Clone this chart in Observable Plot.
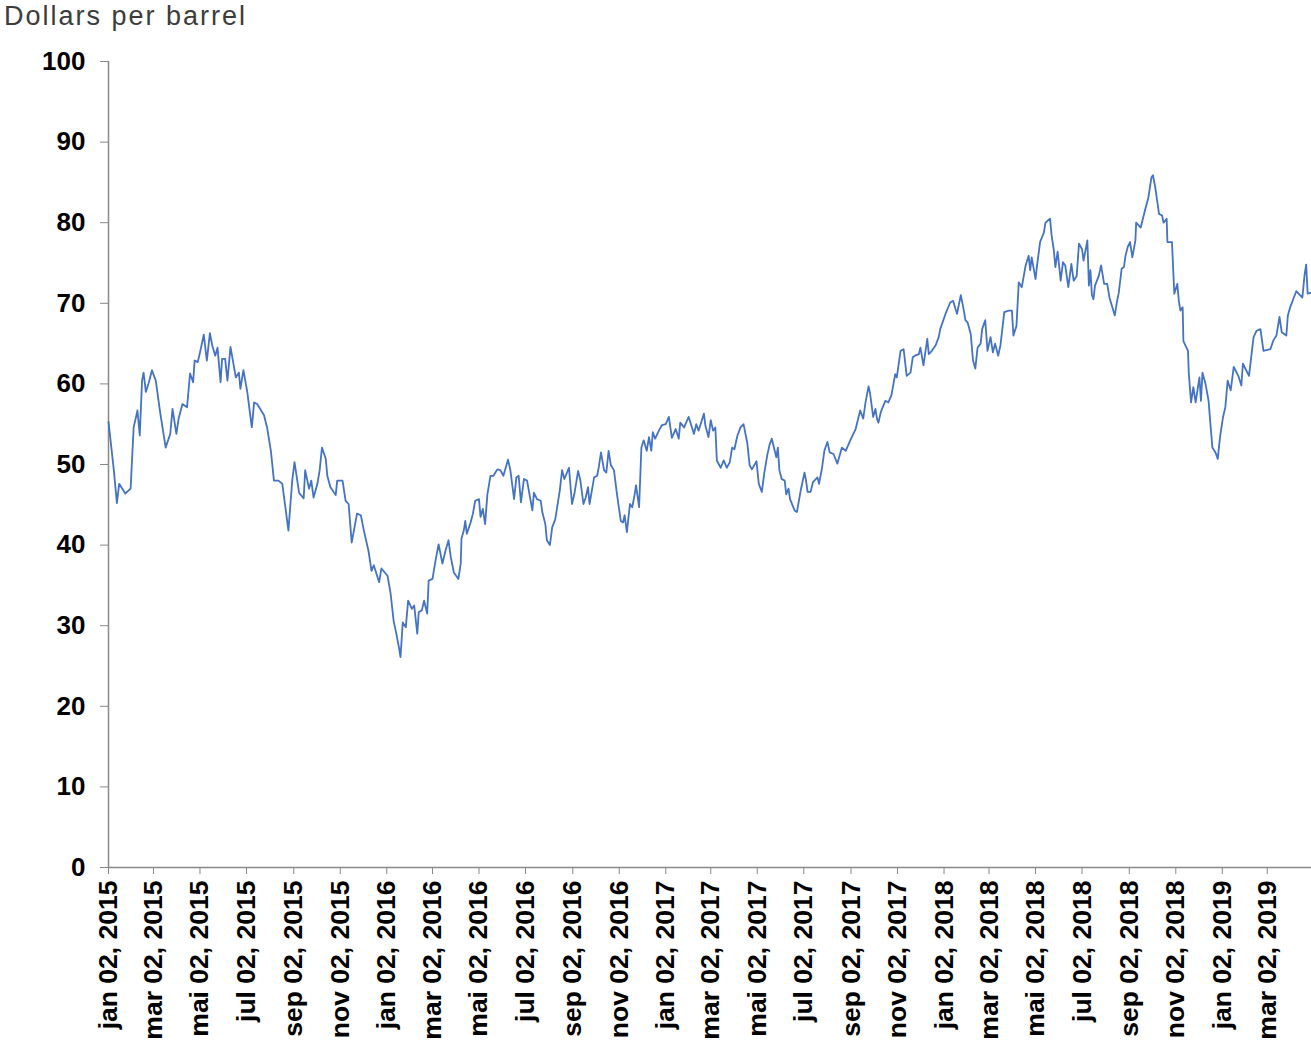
<!DOCTYPE html>
<html>
<head>
<meta charset="utf-8">
<script src="https://cdn.jsdelivr.net/npm/d3@7"></script>
<script src="https://cdn.jsdelivr.net/npm/@observablehq/plot@0.6"></script>
<style>
  html, body { margin: 0; padding: 0; background: #fff; }
  #title { font-family: "Liberation Sans", Arial, sans-serif; font-size: 27px; letter-spacing: 2px; color: #3c3c3c; height: 32px; line-height: 32px; padding-left: 4px; white-space: nowrap; }
  #chart svg { display: block; }
</style>
</head>
<body>
<div id="title">Dollars per barrel</div>
<div id="chart"></div>
<script>
const dates = [
"2015-01-02","2015-01-09","2015-01-13","2015-01-16","2015-01-24","2015-01-31","2015-02-04","2015-02-09","2015-02-12","2015-02-15",
"2015-02-17","2015-02-20","2015-02-24","2015-02-28","2015-03-05","2015-03-11","2015-03-18","2015-03-24","2015-03-27","2015-04-01",
"2015-04-04","2015-04-09","2015-04-15","2015-04-19","2015-04-23","2015-04-25","2015-04-29","2015-05-02","2015-05-07","2015-05-11",
"2015-05-15","2015-05-18","2015-05-22","2015-05-25","2015-05-29","2015-05-31","2015-06-04","2015-06-07","2015-06-11","2015-06-18",
"2015-06-22","2015-06-24","2015-06-28","2015-07-03","2015-07-09","2015-07-12","2015-07-16","2015-07-25","2015-07-29","2015-08-03",
"2015-08-07","2015-08-13","2015-08-18","2015-08-26","2015-08-31","2015-09-03","2015-09-09","2015-09-15","2015-09-17","2015-09-22",
"2015-09-25","2015-09-28","2015-10-03","2015-10-06","2015-10-09","2015-10-14","2015-10-16","2015-10-20","2015-10-27","2015-10-29",
"2015-11-05","2015-11-09","2015-11-13","2015-11-17","2015-11-24","2015-11-29","2015-12-03","2015-12-09","2015-12-13","2015-12-16",
"2015-12-23","2015-12-26","2016-01-03","2016-01-07","2016-01-11","2016-01-15","2016-01-18","2016-01-20","2016-01-23","2016-01-27",
"2016-01-30","2016-02-04","2016-02-07","2016-02-11","2016-02-13","2016-02-17","2016-02-20","2016-02-24","2016-02-26","2016-03-02",
"2016-03-06","2016-03-10","2016-03-15","2016-03-19","2016-03-23","2016-03-26","2016-03-30","2016-04-05","2016-04-08","2016-04-09",
"2016-04-12","2016-04-14","2016-04-16","2016-04-21","2016-04-24","2016-04-27","2016-05-02","2016-05-04","2016-05-07","2016-05-10",
"2016-05-13","2016-05-17","2016-05-21","2016-05-26","2016-05-30","2016-06-03","2016-06-09","2016-06-12","2016-06-17","2016-06-20",
"2016-06-23","2016-06-26","2016-06-30","2016-07-04","2016-07-08","2016-07-11","2016-07-13","2016-07-17","2016-07-22","2016-07-24",
"2016-07-28","2016-07-30","2016-08-03","2016-08-06","2016-08-10","2016-08-16","2016-08-19","2016-08-22","2016-08-28","2016-09-01",
"2016-09-04","2016-09-09","2016-09-12","2016-09-16","2016-09-19","2016-09-22","2016-09-24","2016-09-30","2016-10-04","2016-10-06",
"2016-10-09","2016-10-13","2016-10-16","2016-10-19","2016-10-22","2016-10-26","2016-10-30","2016-11-04","2016-11-07","2016-11-09",
"2016-11-12","2016-11-16","2016-11-19","2016-11-22","2016-11-24","2016-11-28","2016-12-01","2016-12-04","2016-12-08","2016-12-11",
"2016-12-14","2016-12-16","2016-12-19","2016-12-24","2016-12-28","2017-01-02","2017-01-06","2017-01-10","2017-01-15","2017-01-19",
"2017-01-21","2017-01-26","2017-02-01","2017-02-08","2017-02-11","2017-02-14","2017-02-21","2017-02-23","2017-02-27","2017-03-02",
"2017-03-05","2017-03-08","2017-03-10","2017-03-15","2017-03-19","2017-03-23","2017-03-27","2017-03-30","2017-04-02","2017-04-06",
"2017-04-10","2017-04-14","2017-04-19","2017-04-22","2017-04-25","2017-05-01","2017-05-04","2017-05-08","2017-05-11","2017-05-15",
"2017-05-18","2017-05-21","2017-05-27","2017-05-29","2017-05-31","2017-06-03","2017-06-07","2017-06-09","2017-06-12","2017-06-14",
"2017-06-20","2017-06-23","2017-06-28","2017-07-03","2017-07-05","2017-07-07","2017-07-11","2017-07-14","2017-07-20","2017-07-22",
"2017-07-26","2017-07-29","2017-08-02","2017-08-05","2017-08-10","2017-08-15","2017-08-21","2017-08-26","2017-09-01","2017-09-08",
"2017-09-14","2017-09-18","2017-09-21","2017-09-25","2017-09-27","2017-10-01","2017-10-04","2017-10-06","2017-10-08","2017-10-11",
"2017-10-17","2017-10-21","2017-10-25","2017-10-28","2017-10-30","2017-11-01","2017-11-06","2017-11-10","2017-11-14","2017-11-19",
"2017-11-22","2017-11-25","2017-11-30","2017-12-02","2017-12-06","2017-12-11","2017-12-13","2017-12-17","2017-12-22","2017-12-26",
"2017-12-28","2018-01-04","2018-01-10","2018-01-14","2018-01-17","2018-01-19","2018-01-24","2018-01-28","2018-01-30","2018-02-02",
"2018-02-06","2018-02-09","2018-02-12","2018-02-15","2018-02-19","2018-02-21","2018-02-25","2018-02-28","2018-03-04","2018-03-07",
"2018-03-10","2018-03-14","2018-03-17","2018-03-22","2018-03-28","2018-04-01","2018-04-03","2018-04-07","2018-04-10","2018-04-14",
"2018-04-19","2018-04-23","2018-04-25","2018-04-27","2018-05-02","2018-05-04","2018-05-08","2018-05-13","2018-05-15","2018-05-21",
"2018-05-23","2018-05-26","2018-05-28","2018-05-31","2018-06-04","2018-06-07","2018-06-10","2018-06-14","2018-06-18","2018-06-21",
"2018-06-25","2018-06-28","2018-07-02","2018-07-04","2018-07-09","2018-07-11","2018-07-13","2018-07-15","2018-07-17","2018-07-19",
"2018-07-24","2018-07-27","2018-07-31","2018-08-04","2018-08-07","2018-08-14","2018-08-17","2018-08-19","2018-08-23","2018-08-26",
"2018-08-28","2018-08-31","2018-09-03","2018-09-06","2018-09-10","2018-09-11","2018-09-17","2018-09-23","2018-09-27","2018-10-01",
"2018-10-03","2018-10-06","2018-10-11","2018-10-15","2018-10-17","2018-10-21","2018-10-22","2018-10-28","2018-10-31","2018-11-04",
"2018-11-06","2018-11-08","2018-11-11","2018-11-12","2018-11-18","2018-11-19","2018-11-22","2018-11-25","2018-11-28","2018-12-03",
"2018-12-05","2018-12-07","2018-12-11","2018-12-15","2018-12-17","2018-12-20","2018-12-24","2018-12-27","2018-12-30","2019-01-03",
"2019-01-06","2019-01-09","2019-01-13","2019-01-17","2019-01-23","2019-01-27","2019-01-29","2019-02-06","2019-02-12","2019-02-16",
"2019-02-21","2019-02-25","2019-03-06","2019-03-10","2019-03-14","2019-03-18","2019-03-21","2019-03-27","2019-03-29","2019-04-01",
"2019-04-09","2019-04-12","2019-04-17","2019-04-20","2019-04-22","2019-04-24","2019-04-28"
];
const prices = [
55.3,49.3,45.2,47.6,46.4,47.0,54.6,56.7,53.6,60.4,
61.4,59.0,60.2,61.7,60.4,56.3,52.1,53.8,56.9,53.8,
55.7,57.5,57.1,61.3,60.2,62.9,62.7,63.9,66.1,62.9,
66.3,64.8,63.5,64.5,60.2,63.1,63.1,60.4,64.6,60.8,
61.4,59.4,61.7,59.0,54.6,57.7,57.5,56.1,54.6,51.7,
48.0,48.0,47.6,41.8,48.0,50.3,46.5,45.8,49.3,47.0,
48.0,45.9,47.6,49.3,52.1,50.7,48.6,47.2,46.2,48.0,
48.0,45.5,45.1,40.3,43.9,43.7,41.8,39.3,36.8,37.5,
35.4,37.1,36.2,34.0,30.6,28.8,27.3,26.1,30.4,29.8,
33.1,32.1,32.5,29.0,31.7,31.9,33.1,31.5,35.6,35.8,
38.1,40.1,37.7,39.3,40.6,38.5,36.6,35.8,37.7,40.8,
41.8,43.0,41.4,42.8,43.9,45.5,45.7,43.5,44.5,42.6,
46.3,48.6,48.6,49.4,49.3,48.6,50.6,49.4,45.7,48.4,
48.6,45.3,48.2,48.0,45.9,44.3,46.5,45.7,45.5,44.1,
42.6,40.6,40.0,42.2,43.2,46.8,49.3,48.2,49.6,45.1,
46.3,49.2,48.0,45.1,45.9,47.2,45.1,48.4,48.6,49.6,
51.5,49.3,49.0,51.7,49.9,49.3,46.3,43.0,42.8,43.7,
41.6,45.1,44.7,46.2,47.4,44.7,52.1,53.0,51.7,53.4,
51.7,54.0,53.2,54.2,54.9,55.0,55.9,53.3,54.4,53.2,
55.2,54.6,55.9,53.8,55.0,54.2,56.3,54.8,53.4,55.5,
54.2,54.6,50.5,49.6,50.5,49.6,50.3,52.1,51.9,53.6,
54.6,55.0,52.6,49.9,49.4,50.4,47.6,46.6,48.8,51.1,
52.4,53.2,50.9,52.1,49.3,48.2,48.0,46.3,47.0,45.7,
44.3,44.1,46.8,49.0,48.0,46.6,46.6,47.8,48.4,47.6,
49.6,51.7,52.8,51.5,51.3,50.1,52.1,51.7,53.0,54.4,
56.7,55.7,57.7,59.7,58.8,55.9,56.9,55.7,55.2,56.5,
57.9,57.7,58.6,60.2,61.2,60.8,64.1,64.3,61.0,61.4,
63.3,63.5,63.7,64.5,62.3,65.6,63.7,64.1,64.8,65.8,
66.8,68.7,70.1,70.3,69.3,68.7,71.0,69.1,67.9,67.6,
66.2,62.9,61.9,64.5,65.0,66.8,67.9,64.1,65.8,63.9,
65.0,63.5,64.8,68.9,69.1,69.1,66.0,67.2,72.6,72.0,
74.7,75.9,74.1,75.7,73.0,74.7,77.6,78.8,80.0,80.5,
78.5,76.6,74.5,76.4,72.8,75.1,74.7,72.0,74.9,72.8,
73.4,77.4,76.7,75.3,77.8,72.2,74.1,71.0,70.5,72.2,
73.4,74.7,72.4,72.4,70.7,68.5,70.3,71.2,74.3,74.5,
75.9,77.0,77.6,75.7,77.8,80.0,79.4,81.7,83.1,85.6,
85.9,84.4,81.1,80.9,80.0,80.5,77.6,77.6,71.2,72.4,
70.3,69.1,69.5,65.3,64.1,61.4,57.7,59.6,57.7,60.8,
57.9,61.4,60.0,57.9,55.5,52.1,51.5,50.7,53.4,55.9,
57.1,60.4,59.2,62.1,61.0,59.8,62.5,61.0,65.8,66.6,
66.8,64.1,64.3,65.4,66.0,68.3,66.4,66.0,68.5,69.5,
71.5,71.2,70.7,73.6,74.8,71.2,71.3
];
const tickDates = [
"2015-01-02","2015-03-02","2015-05-02","2015-07-02","2015-09-02","2015-11-02",
"2016-01-02","2016-03-02","2016-05-02","2016-07-02","2016-09-02","2016-11-02",
"2017-01-02","2017-03-02","2017-05-02","2017-07-02","2017-09-02","2017-11-02",
"2018-01-02","2018-03-02","2018-05-02","2018-07-02","2018-09-02","2018-11-02",
"2019-01-02","2019-03-02"
];
const tickLabels = [
"jan 02, 2015","mar 02, 2015","mai 02, 2015","jul 02, 2015","sep 02, 2015","nov 02, 2015",
"jan 02, 2016","mar 02, 2016","mai 02, 2016","jul 02, 2016","sep 02, 2016","nov 02, 2016",
"jan 02, 2017","mar 02, 2017","mai 02, 2017","jul 02, 2017","sep 02, 2017","nov 02, 2017",
"jan 02, 2018","mar 02, 2018","mai 02, 2018","jul 02, 2018","sep 02, 2018","nov 02, 2018",
"jan 02, 2019","mar 02, 2019"
];
const yTicks = [0,10,20,30,40,50,60,70,80,90,100];
const xDomain = ["2015-01-02","2019-04-29"];

const parse = s => new Date(s + "T00:00:00Z");
const data = dates.map((d, i) => ({date: parse(d), price: prices[i]}));
const tickObjs = tickDates.map(parse);
const labelMap = new Map(tickObjs.map((d, i) => [+d, tickLabels[i]]));
const axisColor = "#898989";

const chart = Plot.plot({
  width: 1311,
  height: 1013,
  marginLeft: 108,
  marginRight: 0,
  marginTop: 29,
  marginBottom: 178,
  style: {fontFamily: "'Liberation Sans', Arial, sans-serif", background: "#fff", color: "#000"},
  x: {type: "utc", domain: xDomain.map(parse)},
  y: {domain: [0, 100]},
  marks: [
    Plot.axisY({ticks: yTicks, tickSize: 8, tickPadding: 15, fontSize: 26, fontWeight: "bold", stroke: axisColor, fill: "#000", label: null}),
    Plot.axisX({ticks: tickObjs, tickFormat: d => labelMap.get(+d), tickRotate: -90, tickSize: 7, tickPadding: 6, fontSize: 26.5, fontWeight: "bold", stroke: axisColor, fill: "#000", label: null}),
    Plot.ruleX([parse(xDomain[0])], {stroke: axisColor, strokeWidth: 1.5}),
    Plot.ruleY([0], {stroke: axisColor, strokeWidth: 1.5}),
    Plot.lineY(data, {x: "date", y: "price", stroke: "#4472c4", strokeWidth: 1.8})
  ]
});
document.getElementById("chart").appendChild(chart);
</script>
</body>
</html>
